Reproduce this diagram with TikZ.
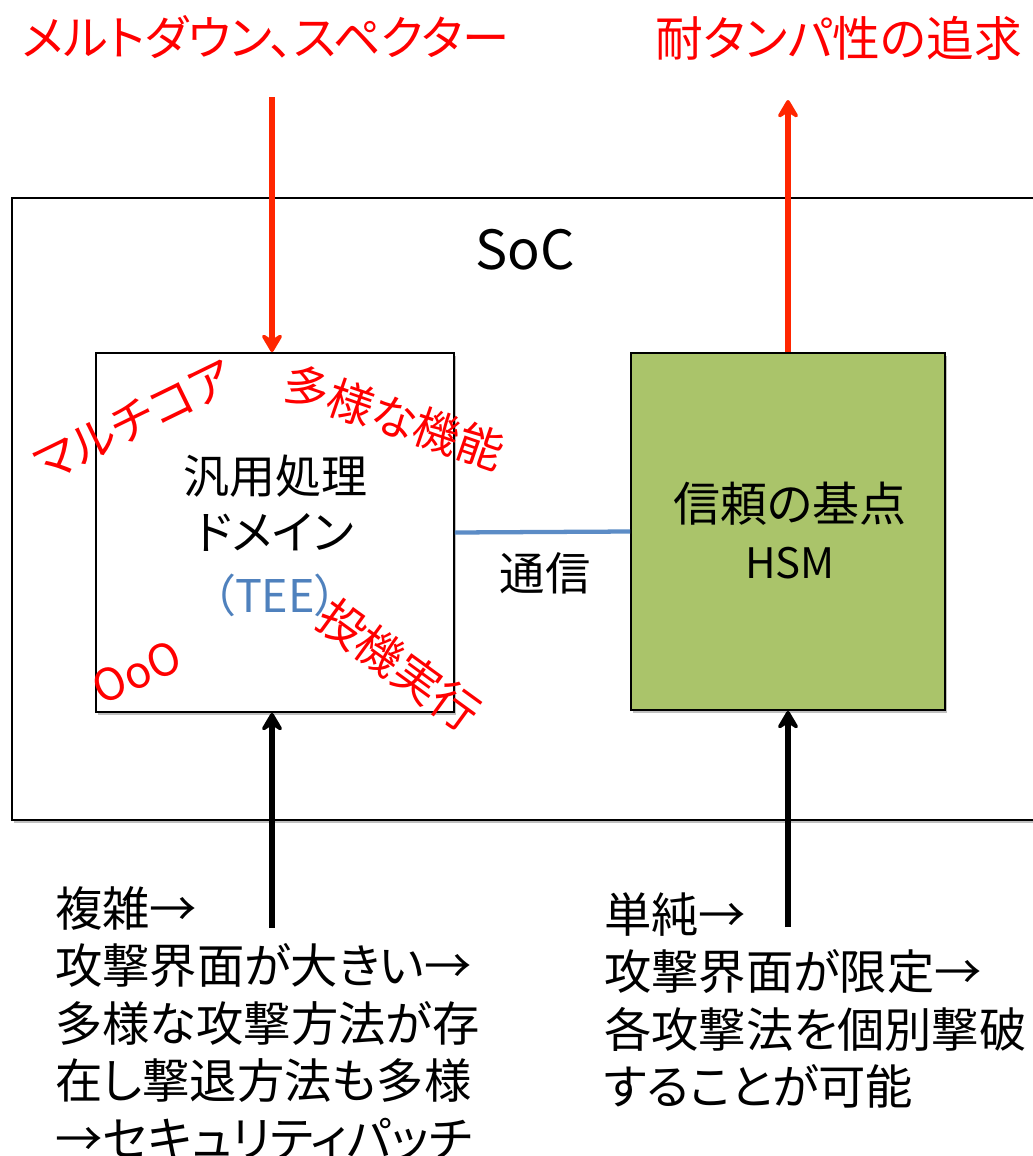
\documentclass[tikz,border=0pt]{standalone}
\usepackage{fontspec}
\setmainfont{Noto Sans CJK JP}[RawFeature={+palt}]
\usetikzlibrary{arrows.meta,fit,shadows}
\definecolor{arrred}{RGB}{255,38,0}
\definecolor{txtred}{RGB}{255,0,0}
\definecolor{hsmgreen}{RGB}{170,196,106}
\definecolor{linkblue}{RGB}{92,140,198}
\definecolor{teeblue}{RGB}{79,129,189}
\newcommand{\fpx}[2]{\fontsize{#1}{#2}\selectfont}
\begin{document}
\begin{tikzpicture}[x=0.75pt,y=-0.75pt,
  frame/.style={draw=black, line width=1.4pt, inner sep=0pt,
    drop shadow={shadow xshift=1.5pt, shadow yshift=-2pt, opacity=0.25, fill=black}},
  redtxt/.style={text=txtred, inner sep=0pt},
  redarr/.style={draw=arrred, line width=4.2pt, -{Stealth[length=17pt,width=20pt,inset=6.5pt,round]}},
  blkarr/.style={draw=black, line width=4.2pt, -{Stealth[length=17pt,width=20pt,inset=6.5pt,round]}},
  link/.style={draw=linkblue, line width=3.2pt},
  note/.style={anchor=north west, align=left, inner sep=0pt, font=\fpx{35.5pt}{43.1pt}}
]
\useasboundingbox (0,0) rectangle (1032,1156);
\fill[white] (0,0) rectangle (1032,1156);

% boxes
\node[fit={(12,198) (1060,820)}, frame, fill=white] (soc) {};
\node[fit={(96,353) (454,712)}, frame, fill=white] (gen) {};
\node[fit={(631,353) (945,710)}, frame, fill=hsmgreen] (hsm) {};

% labels in boxes
\node[font=\fpx{40.5pt}{48pt}] (soclbl) at (525,250) {SoC};
\node[align=center, font=\fpx{34.5pt}{42pt}] (genlbl) at (275,503) {汎用処理\\ドメイン};
\node[text=teeblue, font=\fpx{33.75pt}{40pt}] (tee) at (275,595) {（TEE）};
\node[font=\fpx{35.25pt}{42pt}] (trust) at (790,504) {信頼の基点};
\node[font=\fpx{31.5pt}{38pt}] (hsmlbl) at (790,563) {HSM};
\node[font=\fpx{34pt}{40pt}] (comm) at (545,573) {通信};

% top labels
\node[redtxt, font=\fpx{35.5pt}{42pt}] (melt) at (266,37) {メルトダウン、スペクター};
\node[redtxt, font=\fpx{35.8pt}{42pt}] (tamper) at (839,38) {耐タンパ性の追求};

% rotated red labels
\node[redtxt, font=\fpx{35pt}{42pt}, rotate=26] (multi) at (134,421) {マルチコア};
\node[redtxt, font=\fpx{34.5pt}{42pt}, rotate=-19] (funcs) at (394,417) {多様な機能};
\node[redtxt, font=\fpx{35pt}{42pt}, rotate=-36] (spec) at (399,665) {投機実行};
\node[redtxt, font=\fpx{33pt}{40pt}, rotate=24] (ooo) at (137,672) {OoO};

% bottom notes
\node[note] (leftnote) at (55,886) {複雑→\\攻撃界面が大きい→\\多様な攻撃方法が存\\在し撃退方法も多様\\→セキュリティパッチ};
\node[note] (rightnote) at (604,892) {単純→\\攻撃界面が限定→\\各攻撃法を個別撃破\\することが可能};

% connectors
\coordinate (meltend) at (272,97);
\draw[redarr] (meltend) -- (meltend |- gen.north);
\coordinate (tampend) at (788,100);
\draw[redarr] (hsm.north) -- (tampend);
\coordinate (cxend) at (272,928);
\draw[blkarr] (cxend) -- (cxend |- gen.south);
\coordinate (sxend) at (788,927);
\draw[blkarr] (sxend) -- (hsm.south);
\draw[link] (gen.east) -- (hsm.west);
\end{tikzpicture}
\end{document}
